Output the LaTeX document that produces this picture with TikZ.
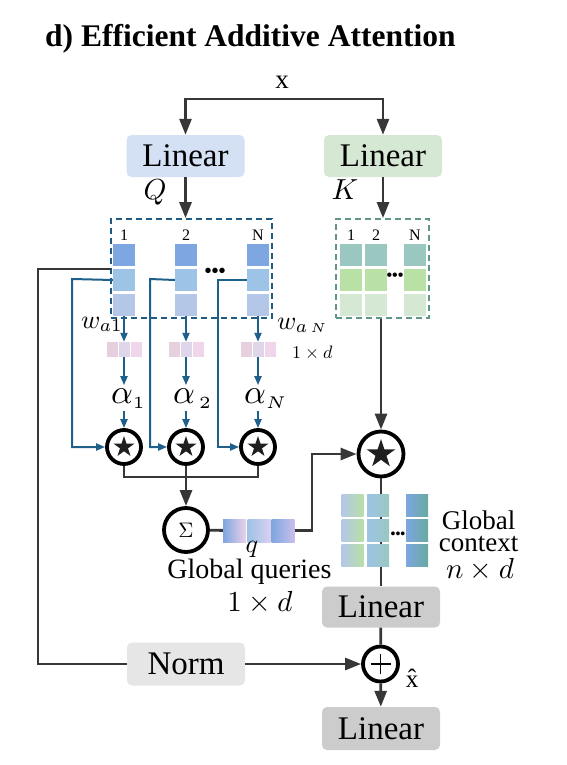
\documentclass[tikz,border=0pt]{standalone}
\usepackage{graphicx}
\usepackage[no-math]{fontspec}
\setmainfont{Liberation Serif}
\usetikzlibrary{arrows.meta,shapes.geometric,calc}
\newcommand{\msc}[2]{\scalebox{#1}{\fontsize{10}{12}\selectfont$#2$}}
\definecolor{dkline}{RGB}{55,55,55}
\definecolor{blline}{RGB}{31,95,140}
\definecolor{qdash}{RGB}{31,90,130}
\definecolor{kdash}{RGB}{95,150,135}
\definecolor{qfill}{RGB}{212,224,244}
\definecolor{kfill}{RGB}{213,232,212}
\definecolor{gfill}{RGB}{204,204,204}
\definecolor{nfill}{RGB}{230,230,230}
\definecolor{cQa}{RGB}{126,166,224}
\definecolor{cQb}{RGB}{157,195,230}
\definecolor{cQc}{RGB}{180,199,231}
\definecolor{cKa}{RGB}{154,199,191}
\definecolor{cKb}{RGB}{185,224,165}
\definecolor{cKc}{RGB}{213,232,212}
\definecolor{cWa}{RGB}{230,208,222}
\definecolor{cWb}{RGB}{224,214,234}
\definecolor{cWc}{RGB}{240,214,234}
\definecolor{cPink}{RGB}{234,210,232}
\definecolor{cLav}{RGB}{218,208,240}
\definecolor{cLav2}{RGB}{200,192,234}
\definecolor{cTeal}{RGB}{103,170,160}
\begin{document}
\begin{tikzpicture}[x=1pt,y=-1pt,
  dk/.style={draw=dkline, line width=2.8pt},
  dkarr/.style={dk, -{Triangle[length=16pt,width=12pt]}},
  bl/.style={draw=blline, line width=2pt},
  blarr/.style={bl, -{Triangle[length=9pt,width=7pt]}},
  cell/.style={minimum width=22pt, minimum height=22pt, inner sep=0pt, draw=none},
  wcell/.style={minimum width=11pt, minimum height=15pt, inner sep=0pt, draw=none},
  box/.style={rounded corners=5pt, minimum width=118pt, inner sep=0pt, font=\fontsize{33}{36}\selectfont},
  opc/.style={circle, draw=black, line width=3.8pt, fill=white, inner sep=0pt},
  starmark/.style={star, star points=5, star point ratio=2.6, fill=black!88, draw=none, inner sep=0pt},
  lbl/.style={anchor=base, inner sep=0pt, font=\fontsize{16}{18}\selectfont},
  txt/.style={anchor=base, inner sep=0pt, font=\fontsize{28}{30}\selectfont},
  dots/.style={inner sep=0pt, font=\bfseries\fontsize{#1}{#1}\selectfont},
  alph/.style={anchor=base, inner sep=3pt},
  plussign/.style={path picture={\draw[line width=1.8pt,black]
     ($(path picture bounding box.center)+(-10pt,0)$) -- ($(path picture bounding box.center)+(10pt,0)$)
     ($(path picture bounding box.center)+(0,-10pt)$) -- ($(path picture bounding box.center)+(0,10pt)$);}}
]
\useasboundingbox (0,0) rectangle (567,765);

% title
\node[anchor=base west, inner sep=0pt, font=\bfseries\fontsize{31.5}{34}\selectfont] (title) at (45,47) {d) Efficient Additive Attention};

% input and linear layers
\node[anchor=base, inner sep=0pt, font=\fontsize{27}{28}\selectfont] (xin) at (282,89) {x};
\coordinate (xs) at (282,99);
\node[box, fill=qfill, minimum height=42pt] (linq) at (185.5,156) {Linear};
\node[box, fill=kfill, minimum height=42pt] (link) at (383,156) {Linear};
\draw[dkarr] (xs) -| (linq);
\draw[dkarr] (xs) -| (link);

% dashed matrices
\node[draw=qdash, line width=1.8pt, dash pattern=on 6pt off 4pt, minimum width=161pt, minimum height=99pt, inner sep=0pt] (qbox) at (191.5,268.5) {};
\node[draw=kdash, line width=1.8pt, dash pattern=on 6pt off 4pt, minimum width=93pt, minimum height=99pt, inner sep=0pt] (kbox) at (382.5,268.5) {};
\draw[dkarr] (linq) -- (linq |- qbox.north);
\draw[dkarr] (link) -- (link |- kbox.north);
\node[txt] (qlab) at (155,199) {\msc{2.9}{Q}};
\node[txt] (klab) at (345,199) {\msc{2.9}{K}};

% Q cells
\foreach \c/\x/\t in {1/124/1,2/186/2,3/258/N} {
  \node[cell, fill=cQa] (qa\c) at (\x,255) {};
  \node[cell, fill=cQb] (qb\c) at (\x,280) {};
  \node[cell, fill=cQc] (qc\c) at (\x,305) {};
  \node[lbl] (qn\c) at (\x,240) {\t};
}
\node[dots=20] (qdots) at (215,273) {\textbullet\textbullet\textbullet};

% K cells
\foreach \c/\x/\t in {1/351/1,2/376/2,3/415/N} {
  \node[cell, fill=cKa] (ka\c) at (\x,255) {};
  \node[cell, fill=cKb] (kb\c) at (\x,280) {};
  \node[cell, fill=cKc] (kc\c) at (\x,305) {};
  \node[lbl] (kn\c) at (\x,240) {\t};
}
\node[dots=16] (kdots) at (395,277) {\textbullet\textbullet\textbullet};

% w vectors
\foreach \c/\x in {1/124,2/186,3/258} {
  \node[wcell, fill=cWa] (wa\c) at (\x-12,349.5) {};
  \node[wcell, fill=cWb] (wb\c) at (\x,349.5) {};
  \node[wcell, fill=cWc] (wc\c) at (\x+12,349.5) {};
}
\node[anchor=base west, inner sep=0pt] (wl1) at (81,328) {\msc{2.6}{w_{a1}}};
\node[anchor=base west, inner sep=0pt] (wl3) at (277,329) {\msc{2.6}{w_{a\,{\scriptscriptstyle N}}}};
\node[anchor=base west, inner sep=0pt] (wdim) at (292,358) {\msc{1.8}{1\times d}};

% alphas
\node[alph] (al1) at (122,403) {\msc{3.4}{\alpha\rlap{$_{\scriptscriptstyle 1}$}}};
\node[alph] (al2) at (184,403) {\msc{3.4}{\alpha\rlap{$_{\scriptscriptstyle\,2}$}}};
\node[alph] (al3) at (255,403) {\msc{3.4}{\alpha\rlap{$_{\scriptscriptstyle N}$}}};

% star circles
\foreach \c/\x in {1/124,2/186,3/258} {
  \node[opc, minimum size=34pt] (s\c) at (\x,447) {};
  \node[starmark, minimum size=22pt] (st\c) at (s\c) {};
  \draw[blarr] (qc\c) -- (wb\c);
  \draw[blarr] (wb\c) -- (wb\c |- al\c.north);
  \draw[blarr] (al\c.south -| s\c) -- (s\c);
}

% blue feed lines
\coordinate (b1) at (72,279);
\coordinate (b2) at (150,279);
\coordinate (b3) at (218,280);
\draw[blarr] (qb1.west) -- (b1) |- (s1);
\draw[blarr] (qb2.west) -- (b2) |- (s2);
\draw[blarr] (qb3.west) -- (b3) |- (s3);

% sum
\node[opc, minimum size=44pt] (sig) at (186,530) {\msc{2.1}{\Sigma}};
\coordinate (j1) at (124,477);
\coordinate (j3) at (258,477);
\draw[dk] (s1) -- (j1) -- (j3) -- (s3);
\draw[dkarr] (s2) -- (sig);

% global query vector
\node[cell, minimum width=23pt, minimum height=23pt, left color=cQa, right color=cPink] (qg1) at (234.5,530.5) {};
\node[cell, minimum width=23pt, minimum height=23pt, left color=cQb, right color=cLav] (qg2) at (259,530.5) {};
\node[cell, minimum width=23pt, minimum height=23pt, left color=cQa, right color=cLav2] (qg3) at (283,530.5) {};
\draw[dk] (sig) -- (qg1);
\node[anchor=base, inner sep=0pt] (qlow) at (252,552) {\msc{2.6}{q}};
\node[txt] (gq) at (249.5,578) {Global queries};
\node[anchor=base, inner sep=0pt] (gqd) at (260,611) {\msc{2.9}{1\times d}};

% big star
\node[opc, minimum size=45pt] (bs) at (381,454) {};
\node[starmark, minimum size=30pt] (bst) at (bs) {};
\draw[dkarr] (kbox.south -| bs) -- (bs);
\coordinate (qt) at (312,530.5);
\draw[dkarr] (qg3) -- (qt) |- (bs);

% lower linear, norm, plus
\node[box, fill=gfill, minimum height=41pt] (lin3) at (381,607) {Linear};
\node[box, fill=nfill, minimum height=43pt] (norm) at (186,664) {Norm};
\node[opc, minimum size=35pt, plussign] (plus) at (380.5,664) {};
\node[box, fill=gfill, minimum height=43pt] (lin4) at (381,728.5) {Linear};
\draw[dk] (bs) -- (lin3);

% global context
\foreach \c/\x/\l/\r in {1/352.5/cQc/cKb,2/378/cQb/cKa,3/417/cQa/cTeal} {
  \node[cell, left color=\l, right color=\r] (ga\c) at (\x,505) {};
  \node[cell, left color=\l, right color=\r] (gb\c) at (\x,530) {};
  \node[cell, left color=\l, right color=\r] (gc\c) at (\x,555) {};
}
\node[dots=14] (gdots) at (398,535) {\textbullet\textbullet\textbullet};
\node[anchor=north, inner sep=0pt, align=center, font=\fontsize{27}{21.5}\selectfont] (gct) at (478.5,511) {Global\\context};
\node[anchor=base, inner sep=0pt] (gct3) at (480,578) {\msc{2.9}{n\times d}};

\draw[dk] (lin3) -- (plus);
\draw[dkarr] (norm) -- (plus);
\draw[dkarr] (plus) -- (lin4);
\node[anchor=base, inner sep=0pt, font=\fontsize{25}{26}\selectfont] (xhat) at (412,687) {\^{x}};

% residual line
\coordinate (qout) at (111,269);
\coordinate (lc) at (38,269);
\draw[dk] (qout) -- (lc) |- (norm);
\end{tikzpicture}
\end{document}
